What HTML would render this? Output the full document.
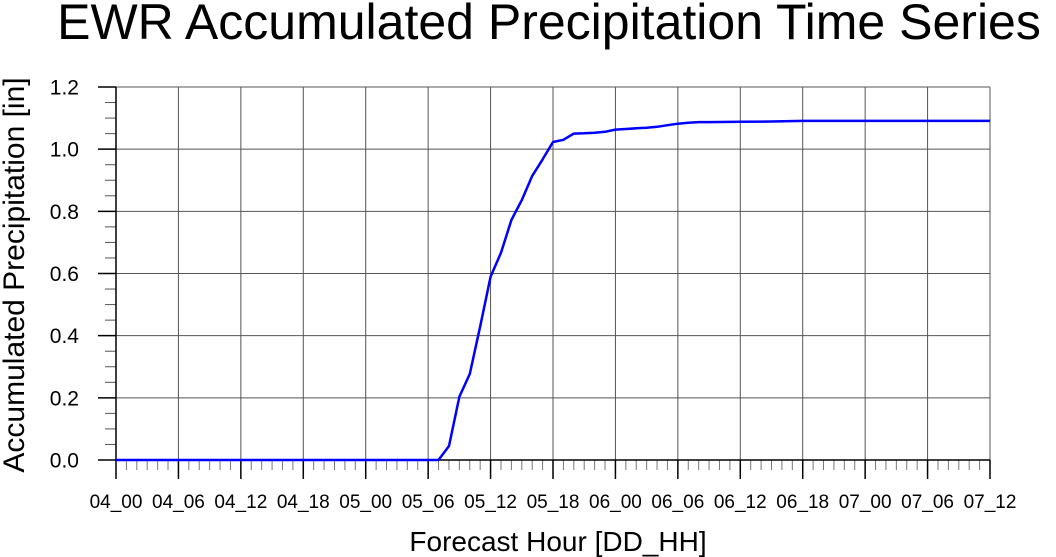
<!DOCTYPE html>
<html><head><meta charset="utf-8"><style>
html,body{margin:0;padding:0;background:#fff;}
svg{display:block;font-family:"Liberation Sans",sans-serif;}
</style></head><body>
<svg id="chart" width="1056" height="557" viewBox="0 0 1056 557">
<text x="549" y="39" font-size="50" text-anchor="middle">EWR Accumulated Precipitation Time Series</text>
<text transform="translate(24,275) rotate(-90)" font-size="30" text-anchor="middle">Accumulated Precipitation [in]</text>
<text x="558" y="551" font-size="28" text-anchor="middle">Forecast Hour [DD_HH]</text>
<g id="grid"></g><g id="axes"></g><g id="series"></g>
</svg>
<script>
const xTickLabels = ["04_00","04_06","04_12","04_18","05_00","05_06","05_12","05_18","06_00","06_06","06_12","06_18","07_00","07_06","07_12"];
const yTickValues = [0,0.2,0.4,0.6,0.8,1.0,1.2];
const yTickLabels = ["0.0","0.2","0.4","0.6","0.8","1.0","1.2"];
const hours = [0,30,31,32,33,34,35,36,37,38,39,40,41,42,43,44,45,46,47,48,49,50,51,52,53,54,55,56,57,60,63,66,72,78,84];
const precip = [0,0,0,0.045,0.204,0.277,0.43,0.59,0.667,0.772,0.836,0.914,0.967,1.023,1.03,1.05,1.051,1.053,1.056,1.063,1.065,1.067,1.069,1.072,1.077,1.082,1.085,1.087,1.087,1.088,1.089,1.091,1.091,1.091,1.091];

const NS="http://www.w3.org/2000/svg";
const X0=116,X1=990,Y0=460,Y1=87,XMAX=84,YMAX=1.2;
const xs=h=>X0+(X1-X0)*h/XMAX;
const ys=v=>Y0-(Y0-Y1)*v/YMAX;
function mk(tag,attrs,parent){const e=document.createElementNS(NS,tag);for(const k in attrs)e.setAttribute(k,attrs[k]);parent.appendChild(e);return e;}
const grid=document.getElementById('grid'),axes=document.getElementById('axes'),series=document.getElementById('series');

xTickLabels.forEach((lab,i)=>{
  const x=xs(i*6);
  const g=mk('line',{x1:x,x2:x,y1:Y1,y2:Y0,stroke:'#555','stroke-width':1},grid);
  
  
  const t=mk('line',{x1:x,x2:x,y1:Y0,y2:Y0+19,stroke:'#000','stroke-width':1.5},axes);
  
  
  const tx=mk('text',{x:x,y:508,'font-size':19,'text-anchor':'middle'},axes);
  tx.textContent=lab;
  
  
});
for(let h=0;h<=XMAX;h++){ if(h%6===0) continue;
  const x=xs(h);
  const t=mk('line',{x1:x,x2:x,y1:Y0,y2:Y0+10,stroke:'#777','stroke-width':1},axes);
  
  
}
yTickValues.forEach((v,i)=>{
  const y=ys(v);
  const g=mk('line',{x1:X0,x2:X1,y1:y,y2:y,stroke:'#555','stroke-width':1},grid);
  
  
  const t=mk('line',{x1:X0-18,x2:X0,y1:y,y2:y,stroke:'#000','stroke-width':1.5},axes);
  
  
  const tx=mk('text',{x:X0-37,y:y+7.5,'font-size':21,'text-anchor':'end'},axes);
  tx.textContent=yTickLabels[i];
  
  
  if(i<yTickValues.length-1){for(let k=1;k<4;k++){const yy=ys(v+0.05*k);
    const m=mk('line',{x1:X0-11,x2:X0,y1:yy,y2:yy,stroke:'#555','stroke-width':1},axes);
    
    }}
});
const ax=mk('path',{d:`M${X0} ${Y1} V${Y0} H${X1}`,fill:'none',stroke:'#000','stroke-width':1.5},axes);


const pts=hours.map((h,i)=>xs(h).toFixed(1)+','+ys(precip[i]).toFixed(1)).join(' ');
const line=mk('polyline',{points:pts,fill:'none',stroke:'#0000ff','stroke-width':2.5,'stroke-linejoin':'round'},series);


</script>
</body></html>
